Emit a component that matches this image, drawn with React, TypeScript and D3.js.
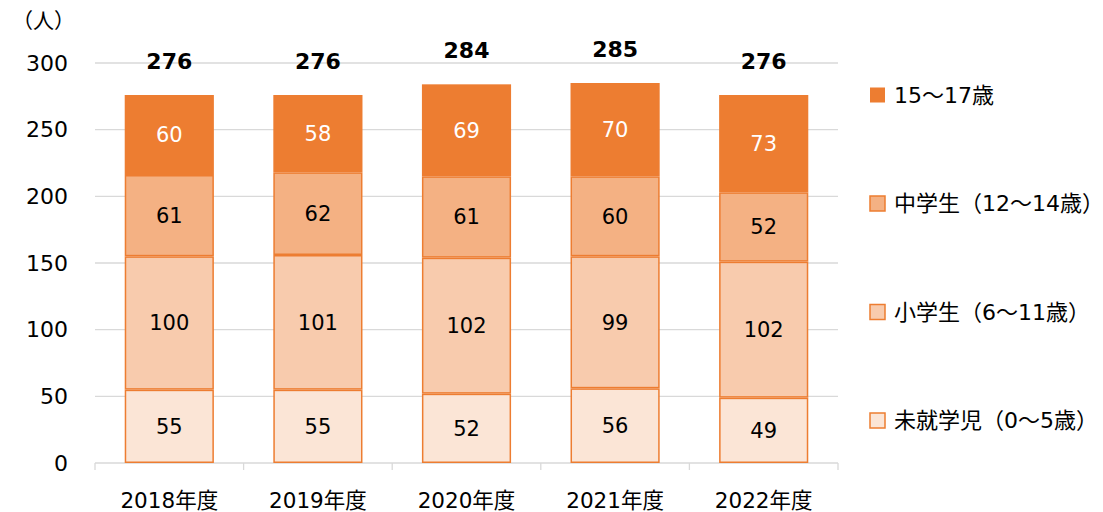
import React from "react";
import * as d3 from "d3";

const years = ["2018年度", "2019年度", "2020年度", "2021年度", "2022年度"];
const preschool = [55, 55, 52, 56, 49];
const elementary = [100, 101, 102, 99, 102];
const juniorHigh = [61, 62, 61, 60, 52];
const age15to17 = [60, 58, 69, 70, 73];
const totals = [276, 276, 284, 285, 276];
const yTicks = [0, 50, 100, 150, 200, 250, 300];

const seriesNames = ["未就学児（0～5歳）", "小学生（6～11歳）", "中学生（12～14歳）", "15～17歳"];
const seriesFill = ["#FBE5D6", "#F8CBAD", "#F4B183", "#ED7D31"];

const width = 1103;
const height = 512;
const font = "'DejaVu Sans', Verdana, 'Noto Sans CJK JP', sans-serif";

export default function App() {
  const x = d3.scaleBand().domain(years).range([95, 838]).paddingInner(0.4).paddingOuter(0.2);
  const y = d3.scaleLinear().domain([0, 300]).range([463, 63]);

  // rows for d3.stack
  const rows = years.map((yr, i) => ({
    year: yr,
    s0: preschool[i],
    s1: elementary[i],
    s2: juniorHigh[i],
    s3: age15to17[i],
  }));
  const stack = d3.stack<any>().keys(["s0", "s1", "s2", "s3"])(rows);

  const bounds = d3.range(years.length + 1).map((i) => 95 + (i * (838 - 95)) / years.length);

  return (
    <svg width={width} height={height} style={{ position: "absolute", left: 0, top: 0 }} fontFamily={font}>
      <rect width={width} height={height} fill="#fff" />
      {yTicks.map((t) => (
        <g key={t}>
          {t > 0 && <line x1={95} x2={838} y1={y(t)} y2={y(t)} stroke="#D9D9D9" strokeWidth={1.3} />}
          <text x={68} y={y(t)} dy="0.35em" textAnchor="end" fontSize={22} fill="#000">
            {t}
          </text>
        </g>
      ))}
      <text x={12} y={28} fontSize={21} fill="#000">（人）</text>
      <line x1={95} x2={838} y1={y(0)} y2={y(0)} stroke="#D9D9D9" strokeWidth={1.3} />
      {bounds.map((b, i) => (
        <line key={i} x1={b} x2={b} y1={y(0)} y2={y(0) + 7} stroke="#D9D9D9" strokeWidth={1.3} />
      ))}
      {stack.map((layer, si) => (
        <g key={si}>
          {layer.map((d, i) => {
            const x0 = x(years[i])!;
            const top = y(d[1]);
            const bot = y(d[0]);
            const isTop = si === 3;
            return (
              <g key={i}>
                <rect
                  x={x0 + (isTop ? 0 : 0.75)}
                  y={top + (isTop ? 0 : 0.75)}
                  width={x.bandwidth() - (isTop ? 0 : 1.5)}
                  height={bot - top - (isTop ? 0 : 1.5)}
                  fill={seriesFill[si]}
                  stroke={isTop ? "none" : "#ED7D31"}
                  strokeWidth={1.5}
                />
                <text
                  x={x0 + x.bandwidth() / 2}
                  y={(top + bot) / 2}
                  dy="0.35em"
                  textAnchor="middle"
                  fontSize={21}
                  fill={isTop ? "#fff" : "#000"}
                >
                  {d[1] - d[0]}
                </text>
              </g>
            );
          })}
        </g>
      ))}
      {totals.map((t, i) => (
        <text
          key={i}
          x={x(years[i])! + x.bandwidth() / 2}
          y={y(t) - 34}
          dy="0.35em"
          textAnchor="middle"
          fontSize={22}
          fontWeight="bold"
          fill="#000"
        >
          {t}
        </text>
      ))}
      {years.map((yr) => (
        <text key={yr} x={x(yr)! + x.bandwidth() / 2} y={500} dy="0.35em" textAnchor="middle" fontSize={21.5} fill="#000">
          {yr}
        </text>
      ))}
      {[3, 2, 1, 0].map((si, k) => {
        const cy = 95 + k * 108.5;
        return (
          <g key={si}>
            <rect
              x={870}
              y={cy - 7.5}
              width={15}
              height={15}
              fill={seriesFill[si]}
              stroke={si === 3 ? "none" : "#ED7D31"}
              strokeWidth={1.5}
            />
            <text x={894} y={cy} dy="0.35em" fontSize={22} fill="#000">
              {seriesNames[si]}
            </text>
          </g>
        );
      })}
    </svg>
  );
}
